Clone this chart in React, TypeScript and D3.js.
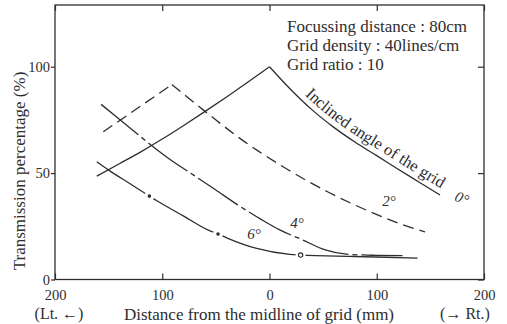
import { useEffect, useRef } from "react";
import * as d3 from "d3";

// distance from grid midline (mm, left negative) vs transmission (%)
const angle0Left = [[-161, 48.6], [-140, 54.4], [-120, 60], [-100, 66], [-80, 72.4], [-60, 79], [-40, 85.8], [-20, 92.8], [0, 100]];
const angle0Right = [[0, 100], [20, 89.2], [40, 79.6], [60, 71.5], [80, 64.5], [100, 58.2], [120, 51.8], [140, 45.6], [159, 39.7]];
const angle2Left = [[-155, 69.4], [-91, 91.6]];
const angle2Right = [[-91, 91.6], [-70, 83], [-49, 74.6], [-30, 67.2], [-10, 60.2], [10, 53.8], [35, 46.4], [55, 41], [94, 31.8], [120, 26.5], [145, 22.4]];
const angle4 = [[-157, 82.3], [-138, 74.5], [-110, 63], [-93, 56.5], [-70, 48.8], [-51, 42.4], [-30, 35.2], [-7, 28], [10, 23.2], [30, 18.8], [52, 13.9], [70, 12], [95, 11.4], [124, 11.2]];
const angle6 = [[-161, 55.3], [-150, 51.4], [-130, 45], [-112, 39.2], [-105, 37], [-80, 29.8], [-57, 23.2], [-48, 21.4], [-40, 19.6], [-12, 14.6], [19, 11.8], [29, 11.5], [80, 10.8], [138, 10]];
const angle6Dots = [[-112, 39.2], [-48, 21.4]];
const angle6Rings = [[29, 11.5]];

const xTicks = [-200, -100, 0, 100, 200];
const yTicks = [0, 50, 100];
const angleLabels = [
  { text: "2°", at: [111.5, 36.9], rot: 0 },
  { text: "4°", at: [25.6, 26.5], rot: 0 },
  { text: "6°", at: [-14.5, 21.4], rot: 0 },
  { text: "0°", at: [179.5, 38.3], rot: 22 },
];
const infoLines = ["Focussing distance : 80cm", "Grid density : 40lines/cm", "Grid ratio : 10"];

const W = 507, H = 324;
const serif = "'Liberation Serif', 'DejaVu Serif', serif";
const ink = "#2e2e2e";

export default function App() {
  const ref = useRef<SVGSVGElement>(null);

  useEffect(() => {
    const m = { top: 5, right: 23, bottom: 44.5, left: 55 };
    const svg = d3.select(ref.current);
    svg.selectAll("*").remove();

    const x = d3.scaleLinear().domain([-200, 200]).range([m.left, W - m.right]);
    const y = d3.scaleLinear().domain([0, 129]).range([H - m.bottom, m.top]);
    const line = d3.line<number[]>().x(d => x(d[0])).y(d => y(d[1])).curve(d3.curveMonotoneX);

    svg.append("rect").attr("width", W).attr("height", H).attr("fill", "#fff");

    // frame
    svg.append("rect")
      .attr("x", x(-200)).attr("y", y(129))
      .attr("width", x(200) - x(-200)).attr("height", y(0) - y(129))
      .attr("fill", "none").attr("stroke", ink).attr("stroke-width", 1.3);

    const styleAxis = (ax: any) => {
      ax.select(".domain").remove();
      ax.selectAll("line").attr("stroke", ink).attr("stroke-width", 1.2);
      ax.selectAll("text").attr("fill", ink).attr("font-size", "14.5px").attr("font-family", serif);
    };

    svg.append("g").attr("transform", `translate(0,${y(0)})`)
      .call(d3.axisBottom(x).tickValues(xTicks).tickSize(-6).tickPadding(10).tickFormat(d => `${Math.abs(+d)}`))
      .call(styleAxis);
    svg.append("g").attr("transform", `translate(0,${y(129)})`)
      .call(d3.axisTop(x).tickValues(xTicks).tickSize(-6).tickFormat(() => ""))
      .call(styleAxis);
    svg.append("g").attr("transform", `translate(${x(-200)},0)`)
      .call(d3.axisLeft(y).tickValues(yTicks).tickSize(4).tickPadding(1))
      .call(styleAxis);
    svg.append("g").attr("transform", `translate(${x(200)},0)`)
      .call(d3.axisRight(y).tickValues(yTicks).tickSize(-6).tickFormat(() => ""))
      .call(styleAxis);

    // curves
    const g = svg.append("g").attr("fill", "none").attr("stroke", ink).attr("stroke-width", 1.3);
    g.append("path").attr("d", line(angle0Left));
    g.append("path").attr("id", "curve0").attr("d", line(angle0Right));
    g.append("path").attr("d", line(angle2Left)).attr("stroke-dasharray", "11,6");
    g.append("path").attr("d", line(angle2Right)).attr("stroke-dasharray", "11,6");
    g.append("path").attr("d", line(angle4)).attr("stroke-dasharray", "48,4,5,4");
    g.append("path").attr("d", line(angle6));

    // 6° markers break the line
    svg.append("g").selectAll("circle").data([...angle6Dots, ...angle6Rings]).join("circle")
      .attr("cx", d => x(d[0])).attr("cy", d => y(d[1])).attr("r", 5).attr("fill", "#fff");
    svg.append("g").selectAll("circle").data(angle6Dots).join("circle")
      .attr("cx", d => x(d[0])).attr("cy", d => y(d[1])).attr("r", 1.8).attr("fill", ink);
    svg.append("g").selectAll("circle").data(angle6Rings).join("circle")
      .attr("cx", d => x(d[0])).attr("cy", d => y(d[1])).attr("r", 2.2)
      .attr("fill", "#fff").attr("stroke", ink).attr("stroke-width", 1.1);

    // label along the 0° curve
    svg.append("text")
      .attr("font-family", serif).attr("font-size", "16.5px").attr("fill", ink).attr("dy", -6)
      .append("textPath").attr("href", "#curve0").attr("startOffset", 45)
      .text("Inclined angle of the grid");

    svg.append("g").selectAll("text").data(angleLabels).join("text")
      .attr("transform", d => `translate(${x(d.at[0])},${y(d.at[1])}) rotate(${d.rot})`)
      .attr("text-anchor", "middle").attr("dy", "0.35em")
      .attr("font-family", serif).attr("font-style", "italic").attr("font-size", "15px").attr("fill", ink)
      .text(d => d.text);

    // info block
    svg.append("g").selectAll("text").data(infoLines).join("text")
      .attr("x", 287).attr("y", (d, i) => 32 + i * 19)
      .attr("font-family", serif).attr("font-size", "17px").attr("fill", ink)
      .text(d => d);

    // axis titles
    svg.append("text").attr("transform", `translate(25,171) rotate(-90)`)
      .attr("text-anchor", "middle").attr("font-family", serif).attr("font-size", "17px").attr("fill", ink)
      .text("Transmission percentage (%)");
    svg.append("text").attr("x", 259).attr("y", 319.5)
      .attr("text-anchor", "middle").attr("font-family", serif).attr("font-size", "17px").attr("fill", ink)
      .text("Distance from the midline of grid (mm)");
    svg.append("text").attr("x", 59).attr("y", 319)
      .attr("text-anchor", "middle").attr("font-family", serif).attr("font-size", "16px").attr("fill", ink)
      .text("(Lt. ←)");
    svg.append("text").attr("x", 465).attr("y", 319)
      .attr("text-anchor", "middle").attr("font-family", serif).attr("font-size", "16px").attr("fill", ink)
      .text("(→ Rt.)");
  }, []);

  return (
    <svg ref={ref} width={W} height={H}
      style={{ position: "absolute", left: 0, top: 0, display: "block" }} />
  );
}
